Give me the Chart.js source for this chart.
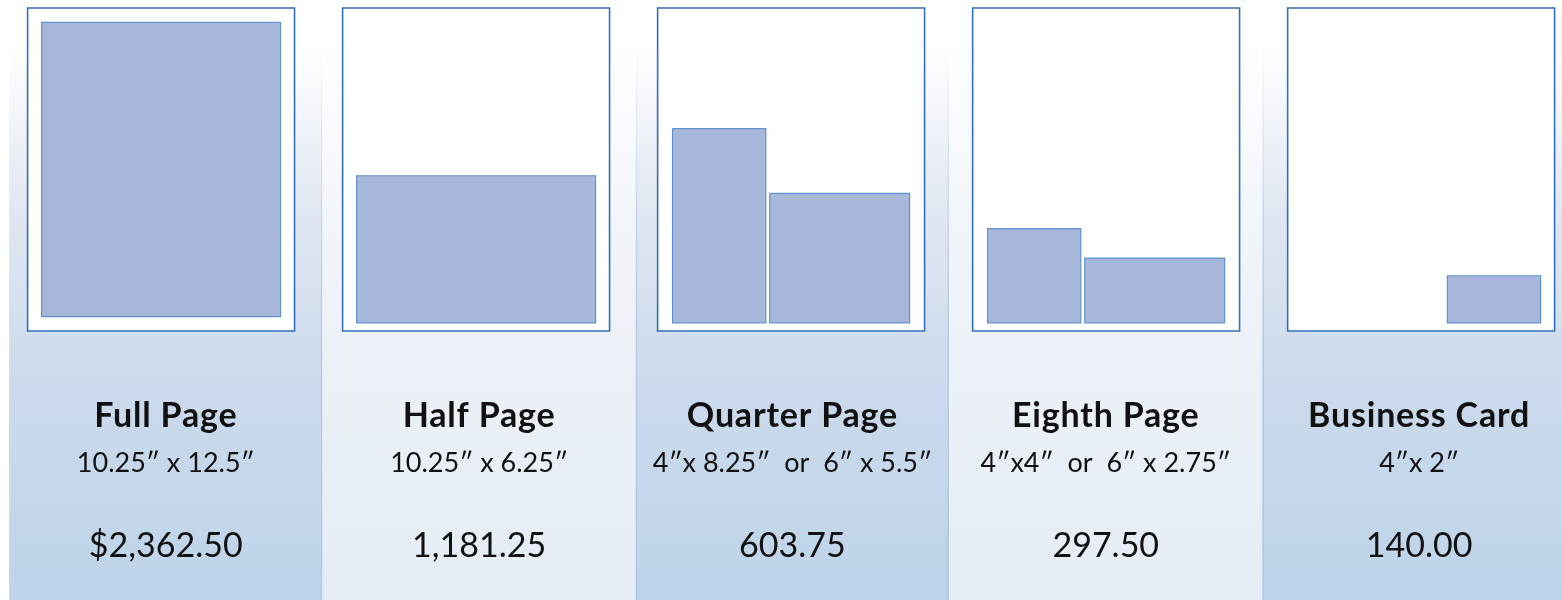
<!DOCTYPE html>
<html>
<head>
<meta charset="utf-8">
<script src="https://cdn.jsdelivr.net/npm/chart.js@4"></script>
<style>
  html, body { margin: 0; padding: 0; background: #ffffff; }
  #wrap { width: 1562px; height: 600px; position: relative; }
</style>
</head>
<body>
<div id="wrap"><canvas id="c" width="1562" height="600"></canvas></div>
<script>
// ---- data ----
const adNames = ['Full Page', 'Half Page', 'Quarter Page', 'Eighth Page', 'Business Card'];
const sizeLabels = ['10.25\u2033 x 12.5\u2033', '10.25\u2033 x 6.25\u2033', '4\u2033x 8.25\u2033  or  6\u2033 x 5.5\u2033', '4\u2033x4\u2033  or  6\u2033 x 2.75\u2033', '4\u2033x 2\u2033'];
const prices = ['$2,362.50', '1,181.25', '603.75', '297.50', '140.00'];
// ad dimensions in inches (first option, second option)
const adWidths  = [[10.25], [10.25], [4, 6],      [4, 6],    [4]];
const adHeights = [[12.5],  [6.25],  [8.25, 5.5], [4, 2.75], [2]];

// ---- layout (inches on the chart's scales) ----
const X_MAX = 67, Y_MAX = 25.5;
const COL0 = 0.39, COL_W = 13.44;
const PAGE0 = 1.184, PAGE_PITCH = 13.512;
const PAGE_W = 11.45, PAGE_H = 13.73, PAGE_BOTTOM = 11.43;
const BOTTOM_MARGIN = 0.35, GAP = 0.17;
const BAND_TOP = 23.67;

function rect(x0, y0, x1, y1) {
  return [{x: x0, y: y0}, {x: x0, y: y1}, {x: x1, y: y1}, {x: x1, y: y0}, {x: x0, y: y0}];
}

const datasets = [];
adNames.forEach((name, i) => {
  const pageLeft = PAGE0 + i * PAGE_PITCH;
  const pageRight = pageLeft + PAGE_W;
  const pageTop = PAGE_BOTTOM + PAGE_H;
  datasets.push({
    label: name + ' page',
    data: rect(pageLeft, PAGE_BOTTOM, pageRight, pageTop),
    showLine: true, fill: 'shape', order: 2,
    backgroundColor: '#ffffff', borderColor: '#336fbb', borderWidth: 1.6,
    pointRadius: 0, tension: 0, borderCapStyle: 'square', borderJoinStyle: 'miter'
  });
  const ws = adWidths[i], hs = adHeights[i];
  const total = ws.reduce((a, b) => a + b, 0) + GAP * (ws.length - 1);
  let x;
  if (name === 'Business Card') {
    x = pageRight - (PAGE_W - 10.25) / 2 - total;
  } else {
    x = pageLeft + (PAGE_W - total) / 2;
  }
  ws.forEach((w, k) => {
    const h = hs[k];
    let y0;
    if (name === 'Full Page') y0 = PAGE_BOTTOM + (PAGE_H - h) / 2;
    else y0 = PAGE_BOTTOM + BOTTOM_MARGIN;
    datasets.push({
      label: name + ' ad ' + (k + 1),
      data: rect(x, y0, x + w, y0 + h),
      showLine: true, fill: 'shape', order: 1,
      backgroundColor: '#a7b7da', borderColor: '#5f92cf', borderWidth: 1.2,
      pointRadius: 0, tension: 0, borderCapStyle: 'square', borderJoinStyle: 'miter'
    });
    x += w + GAP;
  });
});

const bandPlugin = {
  id: 'bands',
  beforeDatasetsDraw(chart) {
    const {ctx, scales: {x: xs, y: ys}} = chart;
    const top = ys.getPixelForValue(BAND_TOP);
    const bottom = ys.getPixelForValue(0);
    adNames.forEach((n, i) => {
      const l = xs.getPixelForValue(COL0 + i * COL_W);
      const r = xs.getPixelForValue(COL0 + (i + 1) * COL_W);
      const g = ctx.createLinearGradient(0, top, 0, bottom);
      if (i % 2 === 0) {
        g.addColorStop(0, '#ffffff');
        g.addColorStop(0.3, '#e1e7f2');
        g.addColorStop(0.62, '#cbdaec');
        g.addColorStop(1, '#bed4ea');
      } else {
        g.addColorStop(0, '#ffffff');
        g.addColorStop(0.35, '#f1f4f9');
        g.addColorStop(1, '#e5ecf5');
      }
      ctx.save();
      ctx.fillStyle = g;
      ctx.fillRect(l, top, r - l, bottom - top);
      if (i % 2 === 0) {
        const lg = ctx.createLinearGradient(0, top, 0, bottom);
        lg.addColorStop(0, 'rgba(173,199,227,0)');
        lg.addColorStop(0.5, 'rgba(173,199,227,0.8)');
        lg.addColorStop(1, 'rgba(173,199,227,1)');
        ctx.fillStyle = lg;
        if (i > 0) ctx.fillRect(l, top, 1.5, bottom - top);
        ctx.fillRect(r - 1.5, top, 1.5, bottom - top);
      }
      ctx.restore();
    });
  }
};

const textPlugin = {
  id: 'texts',
  afterDatasetsDraw(chart) {
    const {ctx, scales: {x: xs, y: ys}} = chart;
    ctx.save();
    ctx.fillStyle = '#111111';
    ctx.textAlign = 'center';
    ctx.textBaseline = 'alphabetic';
    adNames.forEach((n, i) => {
      const cx = xs.getPixelForValue(COL0 + (i + 0.5) * COL_W);
      ctx.letterSpacing = '0.8px';
      ctx.font = 'bold 34px Lato, "Open Sans", sans-serif';
      ctx.fillText(n, cx, ys.getPixelForValue(7.34));
      ctx.letterSpacing = '0px';
      ctx.font = '27px Lato, "Open Sans", sans-serif';
      ctx.fillText(sizeLabels[i], cx, ys.getPixelForValue(5.43));
      ctx.font = '34px Lato, "Open Sans", sans-serif';
      ctx.fillText(prices[i], cx, ys.getPixelForValue(1.84));
    });
    ctx.restore();
  }
};

new Chart(document.getElementById('c'), {
  type: 'scatter',
  data: { datasets },
  options: {
    responsive: false,
    animation: false,
    events: [],
    layout: { padding: 0 },
    plugins: { legend: { display: false }, tooltip: { enabled: false } },
    scales: {
      x: { type: 'linear', min: 0, max: X_MAX, display: false },
      y: { type: 'linear', min: 0, max: Y_MAX, display: false }
    }
  },
  plugins: [bandPlugin, textPlugin]
});
</script>
</body>
</html>
